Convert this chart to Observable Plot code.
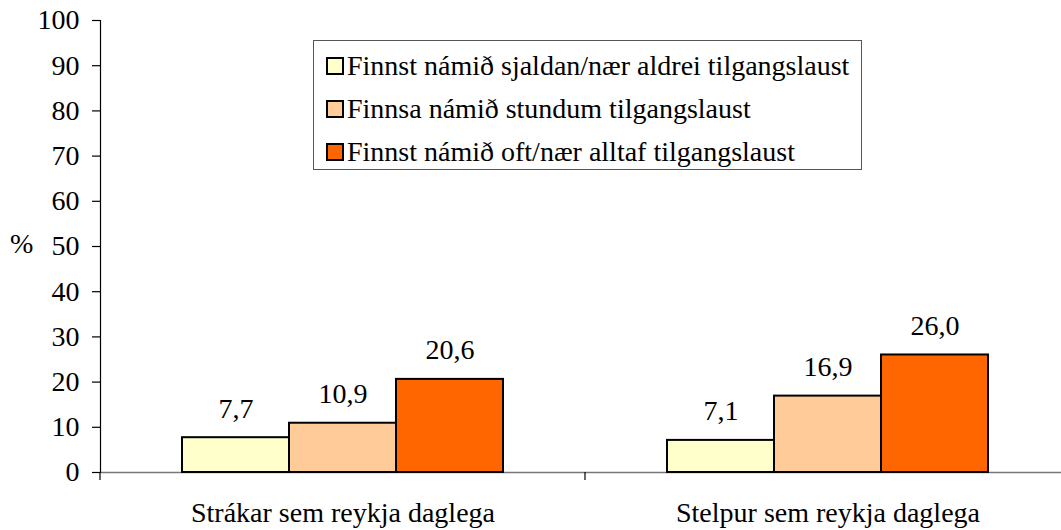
<!DOCTYPE html>
<html>
<head>
<meta charset="utf-8">
<script src="https://cdn.jsdelivr.net/npm/d3@7"></script>
<script src="https://cdn.jsdelivr.net/npm/@observablehq/plot@0.6"></script>
<style>
  html, body { margin: 0; padding: 0; background: #fff; overflow: hidden; }
  #wrap { position: relative; width: 1061px; height: 530px; font-family: "Liberation Serif", "Times New Roman", serif; }
  #pct { position: absolute; left: 10px; top: 228px; font-size: 28px; color: #000; }
  #legend { position: absolute; left: 313px; top: 40px; width: 549px; height: 130px; border: 1px solid #555; box-sizing: border-box; background: #fff; padding-top: 3px; }
  .row { display: flex; align-items: center; height: 43px; padding-left: 12px; font-size: 28px; color: #000; white-space: nowrap; }
  .sw { width: 14px; height: 14px; border: 2px solid #000; margin-right: 3px; flex: none; }
</style>
</head>
<body>
<div id="wrap">
  <div id="chart"></div>
  <div id="pct">%</div>
  <div id="legend"></div>
</div>
<script>
const categories = ["Strákar sem reykja daglega", "Stelpur sem reykja daglega"];
const series = [
  "Finnst námið sjaldan/nær aldrei tilgangslaust",
  "Finnsa námið stundum tilgangslaust",
  "Finnst námið oft/nær alltaf tilgangslaust"
];
const colors = ["#FFFFCC", "#FFCC99", "#FF6600"];
const valuesStrakar = [7.7, 10.9, 20.6];
const valuesStelpur = [7.1, 16.9, 26.0];
const yTicks = [0, 10, 20, 30, 40, 50, 60, 70, 80, 90, 100];

const data = [];
[valuesStrakar, valuesStelpur].forEach((vals, ci) => {
  vals.forEach((v, si) => data.push({cat: categories[ci], series: series[si], value: v}));
});

const fmt = v => v.toFixed(1).replace(".", ",");
const font = "'Liberation Serif', 'Times New Roman', serif";

// tick at each facet's left edge, below the x axis (category separators)
const sepTicks = (index, scales, values, dim) => {
  const g = d3.create("svg:g");
  const x = dim.marginLeft;
  const y0 = dim.height - dim.marginBottom;
  g.append("line").attr("x1", x).attr("x2", x).attr("y1", y0).attr("y2", y0 + 8)
    .attr("stroke", "#000").attr("stroke-width", 1.2);
  return g.node();
};

const plot = Plot.plot({
  width: 1061,
  height: 530,
  marginTop: 20,
  marginBottom: 58,
  marginLeft: 100,
  marginRight: -9,
  style: {fontFamily: font, fontSize: "28px", color: "#000", background: "#fff"},
  fx: {domain: categories, paddingInner: 0, paddingOuter: 0, label: null},
  x: {domain: series, paddingInner: 0, paddingOuter: 0.752, axis: null},
  y: {domain: [0, 100], axis: null},
  color: {domain: series, range: colors},
  marks: [
    Plot.ruleY([0], {stroke: "#777", strokeWidth: 1.3}),
    Plot.frame({anchor: "left", facetAnchor: "left", stroke: "#000", strokeWidth: 1.2}),
    Plot.axisY({ticks: yTicks, tickSize: 8, tickPadding: 13, tickFormat: d => String(d), label: null, fontSize: 28, fontFamily: font, stroke: "#000", strokeWidth: 1.2}),
    Plot.axisFx({anchor: "bottom", tickSize: 0, tickPadding: 30, label: null, fontSize: 28, fontFamily: font}),
    Plot.barY(data, {fx: "cat", x: "series", y: "value", fill: "series", stroke: "#000", strokeWidth: 2}),
    Plot.text(data, {fx: "cat", x: "series", y: "value", text: d => fmt(d.value), dy: -29, fontSize: 28, fontFamily: font, fill: "#000"}),
    sepTicks
  ]
});
document.getElementById("chart").appendChild(plot);

const legend = document.getElementById("legend");
series.forEach((s, i) => {
  const row = document.createElement("div");
  row.className = "row";
  const sw = document.createElement("span");
  sw.className = "sw";
  sw.style.background = colors[i];
  const t = document.createElement("span");
  t.textContent = s;
  row.appendChild(sw);
  row.appendChild(t);
  legend.appendChild(row);
});
</script>
</body>
</html>
